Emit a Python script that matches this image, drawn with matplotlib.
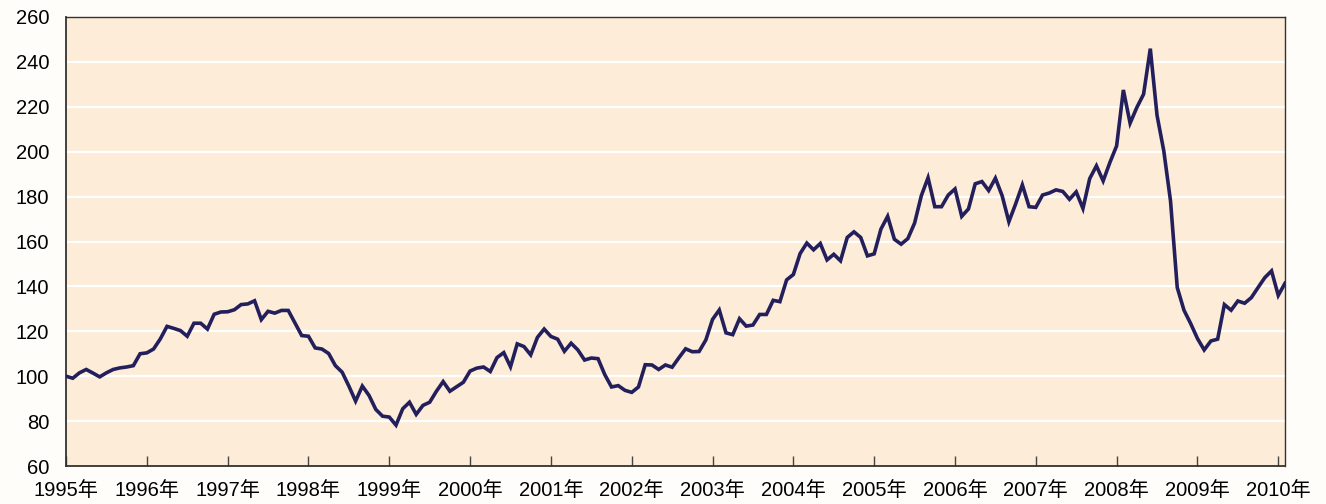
import matplotlib
matplotlib.use("Agg")
import matplotlib.pyplot as plt
import numpy as np

plt.rcParams['font.family'] = ['Liberation Sans', 'Noto Sans CJK SC', 'DejaVu Sans']

start_year = 1995
values = [
    100, 99.1, 101.5, 103, 101.4, 99.7, 101.5, 103, 103.7, 104.1, 104.7, 110,
    110.4, 112.1, 116.6, 122.2, 121.3, 120.3, 117.8, 123.6, 123.6, 121, 127.6, 128.6,
    128.7, 129.6, 131.9, 132.2, 133.6, 125.2, 128.9, 128.1, 129.3, 129.3, 123.7, 118.1,
    117.8, 112.6, 112.1, 110.1, 104.7, 101.8, 95.6, 88.9, 95.6, 91.4, 85.2, 82.2,
    81.8, 78.2, 85.5, 88.4, 83, 87, 88.4, 93.3, 97.6, 93.3, 95.3, 97.3,
    102.3, 103.6, 104.1, 102.1, 108.3, 110.5, 104.2, 114.4, 113.2, 109.5, 117.3, 121,
    117.7, 116.5, 111.1, 114.7, 111.7, 107.2, 108.1, 107.8, 100.7, 95.2, 95.8, 93.7,
    92.8, 95.2, 105.1, 105, 103, 105, 104, 108.2, 112.2, 110.9, 111, 116.1,
    125.3, 129.5, 119.3, 118.5, 125.6, 122.3, 122.8, 127.5, 127.5, 133.8, 133.2, 142.9,
    145.3, 154.6, 159.3, 156.3, 159.1, 151.8, 154.3, 151.4, 161.8, 164.3, 161.8, 153.6,
    154.5, 165.5, 171.2, 161, 158.8, 161.3, 168.2, 180.4, 188.4, 175.5, 175.5, 180.7,
    183.4, 171.2, 174.5, 185.7, 186.7, 182.7, 188.2, 180.4, 168.8, 176.7, 185.2, 175.5,
    175.2, 180.7, 181.6, 183, 182.3, 178.8, 182.1, 174.7, 188, 193.7, 187, 195.2,
    202.6, 227.5, 212.7, 219.7, 225.6, 245.9, 216.2, 200.4, 178.1, 139.5, 129.4, 123.4,
    116.8, 111.7, 115.7, 116.5, 131.9, 129.4, 133.5, 132.5, 135, 139.5, 143.9, 146.9,
    136, 141.4,
]
years = list(range(1995, 2011))
year_labels = [f"{y}年" for y in years]
y_ticks = list(range(60, 261, 20))

x = start_year + np.arange(len(values)) / 12.0

fig = plt.figure(figsize=(13.26, 5.04), dpi=100)
fig.patch.set_facecolor('#FFFDF9')
ax = fig.add_axes([66/1326, 1 - 466/504, (1285 - 66)/1326, (466 - 17)/504])
ax.set_facecolor('#FDECD7')

for yv in y_ticks[1:-1]:
    ax.axhline(yv, color='white', linewidth=1.6, zorder=1)

ax.plot(x, values, color='#231F5C', linewidth=2.6, zorder=3, solid_joinstyle='miter')

ax.set_xlim(x[0], x[-1])
ax.set_ylim(60, 260)
ax.set_xticks(years)
ax.set_xticklabels(year_labels)
ax.set_yticks(y_ticks)
ax.tick_params(axis='x', direction='in', length=7, width=1, color='#444444',
               labelsize=14.5, pad=11, labelcolor='black')
ax.tick_params(axis='y', length=0, labelsize=14.5, pad=12, labelcolor='black')
for s in ax.spines.values():
    s.set_color('#333333')
    s.set_linewidth(1)
ax.spines['left'].set_linewidth(1.3)
ax.spines['bottom'].set_linewidth(1.3)

fig.savefig('out.png', dpi=100, facecolor=fig.get_facecolor())
